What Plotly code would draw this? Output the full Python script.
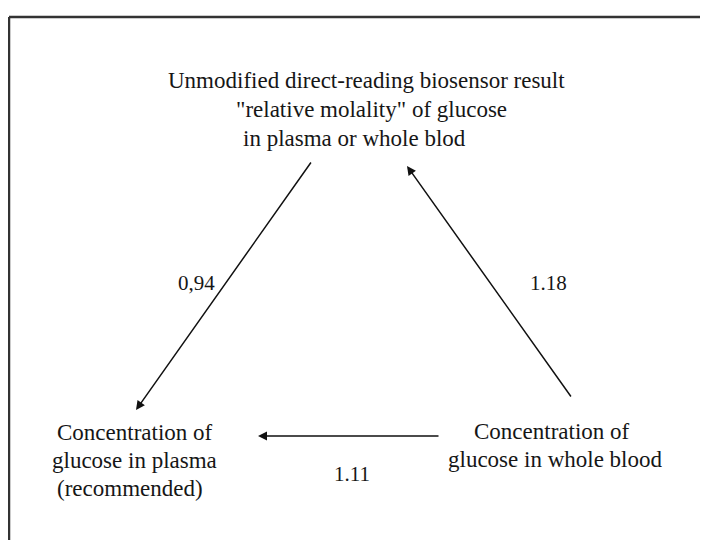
import plotly.graph_objects as go

# ---- data (diagram content) ----
node_lines = [
    ["Unmodified direct-reading biosensor result",
     "\"relative molality\" of glucose",
     "in plasma or whole blod"],
    ["Concentration of", "glucose in plasma", "(recommended)"],
    ["Concentration of", "glucose in whole blood"],
]
edge_factors = ["0,94", "1.18", "1.11"]

# ---- layout constants (screen-pixel coordinate frame) ----
W, H = 708, 540
OFF = 8  # page body margin of the exported html
FONT = "Liberation Serif"
FS = 23
line_pos = [
    [(366, 80), (371, 109), (354, 138)],
    [(135, 432), (134, 460), (130, 488)],
    [(552, 431), (555, 459)],
]
label_pos = [(196, 283), (548, 283), (352, 474)]
arrow_tail = [(312, 161), (572, 398), (440, 436)]
arrow_head = [(136, 410), (407, 166), (258, 436)]

fig = go.Figure()
fig.add_trace(go.Scatter(x=[OFF, W + OFF], y=[OFF, H + OFF], mode="markers",
                         marker=dict(opacity=0), hoverinfo="skip", showlegend=False))

ann = []
for lines, poss in zip(node_lines, line_pos):
    for txt, (x, y) in zip(lines, poss):
        ann.append(dict(x=x, y=y, xref="x", yref="y", text=txt, showarrow=False,
                        font=dict(family=FONT, size=FS, color="#161616"),
                        xanchor="center", yanchor="middle"))
for k, f in enumerate(edge_factors):
    x, y = label_pos[k]
    ann.append(dict(x=x, y=y, xref="x", yref="y", text=f, showarrow=False,
                    font=dict(family=FONT, size=21, color="#161616"),
                    xanchor="center", yanchor="middle"))
    (tx, ty), (hx, hy) = arrow_tail[k], arrow_head[k]
    ann.append(dict(x=hx, y=hy, ax=tx, ay=ty, xref="x", yref="y", axref="x", ayref="y",
                    text="", showarrow=True, arrowhead=2, arrowsize=1.2, arrowwidth=1.5,
                    arrowcolor="#111", standoff=0, startstandoff=0))

fig.update_layout(
    width=W, height=H,
    margin=dict(l=0, r=0, t=0, b=0),
    paper_bgcolor="white", plot_bgcolor="white",
    xaxis=dict(range=[OFF, W + OFF], visible=False, fixedrange=True),
    yaxis=dict(range=[H + OFF, OFF], visible=False, fixedrange=True),
    annotations=ann,
    shapes=[
        dict(type="line", xref="x", yref="y", x0=9, y0=17, x1=W + OFF, y1=17,
             line=dict(color="#333", width=2.5)),
        dict(type="line", xref="x", yref="y", x0=9, y0=17, x1=9, y1=H + OFF,
             line=dict(color="#333", width=2.5)),
    ],
    showlegend=False,
)

fig.write_html("out.html")
